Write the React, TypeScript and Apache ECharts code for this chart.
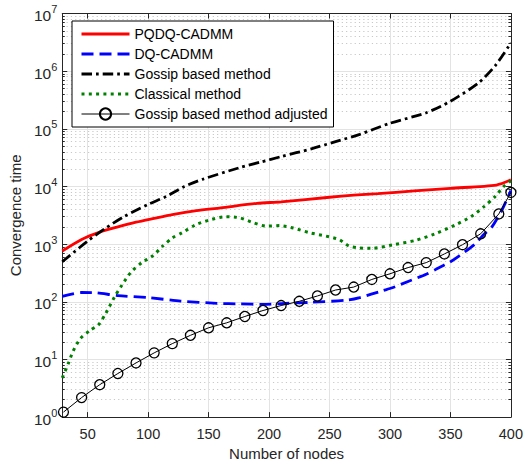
import React, { useEffect, useRef } from "react";
import * as echarts from "echarts";

const FONT = "'Liberation Sans', Arial, Helvetica, sans-serif";

const xTicks = [50, 100, 150, 200, 250, 300, 350, 400];

// Minor y positions (log10 of 2..9 times each decade) for the dotted minor grid
const minorTickExponents: number[] = [];
for (let e = 0; e < 7; e++) {
  for (let k = 2; k <= 9; k++) minorTickExponents.push(e + Math.log10(k));
}

const seriesNames = [
  "PQDQ-CADMM",
  "DQ-CADMM",
  "Gossip based method",
  "Classical method",
  "Gossip based method adjusted",
];

const pqdqNodes = [29, 45, 60, 75, 90, 105, 120, 140, 160, 190, 210, 250, 270, 290, 320, 350, 388, 400];
const pqdqTime = [760, 1205, 1616, 1990, 2400, 2800, 3250, 3800, 4250, 5100, 5400, 6500, 7050, 7500, 8360, 9300, 10600, 13000];

const dqNodes = [29, 45, 57, 75, 100, 127, 157, 176, 195, 210, 235, 265, 275, 294, 302, 316, 330, 338, 351, 357, 370, 378, 384, 392, 400];
const dqTime = [124, 145, 143, 128, 118, 103, 94, 92, 90, 93, 98, 107, 118, 156, 175, 230, 300, 365, 510, 620, 990, 1500, 1950, 3700, 8500];

const gossipNodes = [29, 50, 65, 80, 100, 115, 130, 145, 175, 193, 210, 235, 255, 275, 300, 330, 350, 373, 387, 400];
const gossipTime = [495, 1130, 1900, 3000, 4900, 6700, 10000, 13300, 21000, 26500, 33000, 45000, 60000, 80000, 125000, 190000, 300000, 620000, 1240000, 3100000];

const classicalNodes = [29, 34, 38, 44, 52, 59, 65, 72, 78, 86, 95, 104, 112, 120, 128, 139, 150, 164, 176, 187, 198, 209, 220, 234, 247, 258, 266, 275, 285, 302, 321, 337, 354, 367, 378, 387, 394, 400];
const classicalTime = [4.8, 8.5, 14, 23, 32, 40, 63, 119, 190, 330, 480, 630, 920, 1280, 1570, 2150, 2600, 3000, 2850, 2350, 2050, 2100, 1900, 1570, 1380, 1200, 930, 860, 845, 970, 1160, 1500, 2150, 3000, 4500, 6700, 10000, 12500];

const adjustedNodes = [30, 45, 60, 75, 90, 105, 120, 135, 150, 165, 180, 195, 210, 225, 240, 255, 270, 285, 300, 315, 330, 345, 360, 375, 390, 400];
const adjustedTime = [1.22, 2.18, 3.65, 5.7, 8.7, 13, 18.8, 26.2, 35.4, 43.2, 55.6, 70.6, 86, 102, 126, 160, 180, 244, 306, 392, 478, 676, 977, 1510, 3336, 7880];

function pairs(xs: number[], ys: number[]) {
  return xs.map((x, i) => [x, ys[i]]);
}

export default function App() {
  const ref = useRef<HTMLDivElement>(null);
  useEffect(() => {
    if (!ref.current) return;
    const chart = echarts.init(ref.current, undefined, { renderer: "svg" });
    const axisColor = "#262626";
    const plainLine = (name: string, xs: number[], ys: number[], color: string, width: number, type: any) => ({
      name,
      type: "line",
      xAxisIndex: 0,
      yAxisIndex: 0,
      data: pairs(xs, ys),
      symbol: "none",
      smooth: 0.25,
      lineStyle: { color, width, type, cap: "butt" },
      itemStyle: { color },
      emphasis: { disabled: true },
    });
    const option: any = {
      animation: false,
      backgroundColor: "#ffffff",
      textStyle: { fontFamily: FONT },
      grid: { left: 60, right: 13, top: 13.5, bottom: 45.3, containLabel: false },
      legend: {
        orient: "vertical",
        left: 72,
        top: 21,
        data: seriesNames.map((n, i) =>
          i < 4
            ? { name: n, itemStyle: { opacity: 0 }, lineStyle: { width: i === 3 ? 3 : 2.8 } }
            : { name: n, lineStyle: { width: 1 } }
        ),
        itemWidth: 48,
        itemHeight: 14,
        itemGap: 6,
        padding: [6, 6, 6, 8],
        borderColor: "#000",
        borderWidth: 1,
        borderRadius: 0,
        backgroundColor: "#fff",
        selectedMode: false,
        textStyle: { fontSize: 14, color: "#000", fontFamily: FONT, lineHeight: 14 },
      },
      xAxis: [
        {
          type: "value",
          min: 29,
          max: 400,
          position: "bottom",
          axisLine: { show: true, onZero: false, lineStyle: { color: axisColor, width: 1 } },
          axisTick: { show: true, inside: true, length: 5, customValues: xTicks, lineStyle: { color: axisColor } },
          axisLabel: { customValues: xTicks, color: axisColor, fontSize: 14.5, margin: 9, fontFamily: FONT },
          splitLine: { show: true, lineStyle: { color: "#e3e3e3", width: 1 } },
          name: "Number of nodes",
          nameLocation: "middle",
          nameGap: 28.5,
          nameTextStyle: { color: axisColor, fontSize: 15, fontFamily: FONT },
        },
        {
          type: "value",
          min: 29,
          max: 400,
          position: "top",
          axisLine: { show: true, onZero: false, lineStyle: { color: axisColor, width: 1 } },
          axisTick: { show: true, inside: true, length: 5, customValues: xTicks, lineStyle: { color: axisColor } },
          axisLabel: { show: false },
          splitLine: { show: false },
        },
      ],
      yAxis: [
        {
          type: "log",
          logBase: 10,
          min: 1,
          max: 1e7,
          interval: 1,
          position: "left",
          axisLine: { show: true, onZero: false, lineStyle: { color: axisColor, width: 1 } },
          axisTick: { show: true, inside: true, length: 5, lineStyle: { color: axisColor } },
          axisLabel: {
            color: axisColor,
            margin: 5,
            formatter: (v: number) => `{a|10}{b|${Math.round(Math.log10(v))}}`,
            rich: {
              a: { fontSize: 15.5, fontFamily: FONT, color: axisColor, padding: [4, 0, 0, 0] },
              b: { fontSize: 11, fontFamily: FONT, color: axisColor, verticalAlign: "top" },
            },
          },
          splitLine: { show: true, lineStyle: { color: "#e3e3e3", width: 1 } },
          name: "Convergence time",
          nameLocation: "middle",
          nameGap: 37.5,
          nameTextStyle: { color: axisColor, fontSize: 15, fontFamily: FONT },
        },
        {
          type: "value",
          min: 0,
          max: 7,
          position: "left",
          axisLine: { show: false },
          axisTick: { show: true, inside: true, length: 2.5, customValues: minorTickExponents, lineStyle: { color: axisColor } },
          axisLabel: { show: false },
          splitLine: { show: true, lineStyle: { color: "#c8c8c8", width: 1, type: [1.2, 3.1] } },
        },
        {
          type: "log",
          logBase: 10,
          min: 1,
          max: 1e7,
          interval: 1,
          position: "right",
          axisLine: { show: true, onZero: false, lineStyle: { color: axisColor, width: 1 } },
          axisTick: { show: true, inside: true, length: 5, lineStyle: { color: axisColor } },
          axisLabel: { show: false },
          splitLine: { show: false },
        },
        {
          type: "value",
          min: 0,
          max: 7,
          position: "right",
          axisLine: { show: false },
          axisTick: { show: true, inside: true, length: 2.5, customValues: minorTickExponents, lineStyle: { color: axisColor } },
          axisLabel: { show: false },
          splitLine: { show: false },
        },
      ],
      series: [
        plainLine(seriesNames[0], pqdqNodes, pqdqTime, "#ff0000", 2.8, "solid"),
        plainLine(seriesNames[1], dqNodes, dqTime, "#0000ff", 2.8, [12, 6]),
        plainLine(seriesNames[2], gossipNodes, gossipTime, "#000000", 2.8, [10.5, 4, 2.7, 4]),
        plainLine(seriesNames[3], classicalNodes, classicalTime, "#008000", 3, [3, 4.3]),
        {
          name: seriesNames[4],
          type: "line",
          xAxisIndex: 0,
          yAxisIndex: 0,
          data: pairs(adjustedNodes, adjustedTime),
          symbol: "circle",
          symbolSize: 10,
          lineStyle: { color: "#000000", width: 1 },
          itemStyle: { color: "rgba(255,255,255,0)", borderColor: "#000000", borderWidth: 1.3 },
          emphasis: { disabled: true },
        },
      ],
    };
    chart.setOption(option);
    return () => chart.dispose();
  }, []);
  return (
    <div
      ref={ref}
      style={{ position: "absolute", left: 0, top: 0, width: 526, height: 466, background: "#fff" }}
    />
  );
}
